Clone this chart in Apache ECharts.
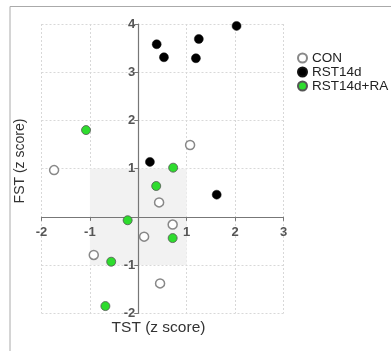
<!DOCTYPE html>
<html><head><meta charset="utf-8">
<script src="https://cdn.jsdelivr.net/npm/echarts@6/dist/echarts.min.js"></script>
<style>html,body{margin:0;padding:0;background:#fff}#c{width:391px;height:351px}</style>
</head><body><div id="c"></div>
<script>
const seriesNames = ['CON', 'RST14d', 'RST14d+RA'];
const conData = [[-1.74,0.97],[1.07,1.49],[0.43,0.30],[0.71,-0.16],[0.12,-0.41],[-0.92,-0.79],[0.45,-1.38]];
const rstData = [[0.38,3.58],[0.53,3.31],[1.25,3.69],[1.19,3.29],[2.03,3.96],[0.24,1.14],[1.62,0.46]];
const raData = [[-1.08,1.80],[0.72,1.02],[0.37,0.64],[-0.22,-0.07],[0.71,-0.44],[-0.56,-0.93],[-0.68,-1.85]];
const xTicks = [-2,-1,0,1,2,3];
const yTicks = [-2,-1,0,1,2,3,4];
const shadedBox = [[-1,-1],[1,1]];
const xTitle = 'TST (z score)';
const yTitle = 'FST (z score)';

const font = '"Liberation Sans", Arial, Helvetica, sans-serif';
const W = 391, H = 351;
const grid = {left:41.5, right:107.5, top:24, bottom:37.7};
const xMin = xTicks[0], xMax = xTicks[xTicks.length-1];
const yMin = yTicks[0], yMax = yTicks[yTicks.length-1];
const gw = W - grid.left - grid.right, gh = H - grid.top - grid.bottom;
// move axes so they cross at zero (labels follow the line)
const xOffset = -(0 - yMin) / (yMax - yMin) * gh;
const yOffset = -(0 - xMin) / (xMax - xMin) * gw;

const chart = echarts.init(document.getElementById('c'), null, {renderer:'canvas'});
const axisCommon = {
  type:'value', interval:1, z:1,
  axisLine:{onZero:false, lineStyle:{color:'#777', width:1.2}},
  axisTick:{show:true, length:4, lineStyle:{color:'#777'}},
  splitLine:{show:true, lineStyle:{color:'#d8d8d8', type:[2,2], width:1}},
  axisLabel:{fontFamily:font, fontSize:13, fontWeight:'bold', color:'#555',
    formatter:v => v === 0 ? '' : String(v)}
};
chart.setOption({
  animation:false,
  backgroundColor:'#fff',
  grid:Object.assign({containLabel:false}, grid),
  xAxis:Object.assign({}, axisCommon, {min:xMin, max:xMax, position:'bottom', offset:xOffset,
    axisLabel:Object.assign({}, axisCommon.axisLabel, {margin:9})}),
  yAxis:Object.assign({}, axisCommon, {min:yMin, max:yMax, position:'left', offset:yOffset,
    axisLabel:Object.assign({}, axisCommon.axisLabel, {margin:3})}),
  legend:{
    data:seriesNames, orient:'vertical', left:292, top:46, itemGap:0,
    itemWidth:9, itemHeight:9, icon:'circle',
    textStyle:{fontFamily:font, fontSize:13.5, color:'#222', padding:[0,0,0,0]}
  },
  graphic:[
    {type:'line', shape:{x1:10, y1:6.5, x2:391, y2:6.5}, style:{stroke:'#aaa', lineWidth:1}},
    {type:'line', shape:{x1:10, y1:6.5, x2:10, y2:351}, style:{stroke:'#aaa', lineWidth:1}},
    {type:'text', x:158.5, y:328, style:{text:xTitle, align:'center', verticalAlign:'middle', font:'15.5px '+font, fill:'#333'}},
    {type:'text', x:20, y:161, rotation:Math.PI/2, style:{text:yTitle, align:'center', verticalAlign:'middle', font:'14px '+font, fill:'#333'}}
  ],
  series:[
    {type:'scatter', name:'_box', data:[], z:0, silent:true,
      markArea:{silent:true, itemStyle:{color:'#f2f2f2'}, data:[[{coord:shadedBox[0]},{coord:shadedBox[1]}]]}},
    {type:'scatter', name:seriesNames[0], data:conData, symbolSize:9, z:2,
      itemStyle:{color:'#fff', borderColor:'#888', borderWidth:1.5, opacity:1}},
    {type:'scatter', name:seriesNames[1], data:rstData, symbolSize:9, z:2,
      itemStyle:{color:'#000', borderColor:'#111', borderWidth:0.5, opacity:1}},
    {type:'scatter', name:seriesNames[2], data:raData, symbolSize:9, z:2,
      itemStyle:{color:'#2edc2e', borderColor:'#555', borderWidth:0.8, opacity:1}}
  ]
});
</script></body></html>
